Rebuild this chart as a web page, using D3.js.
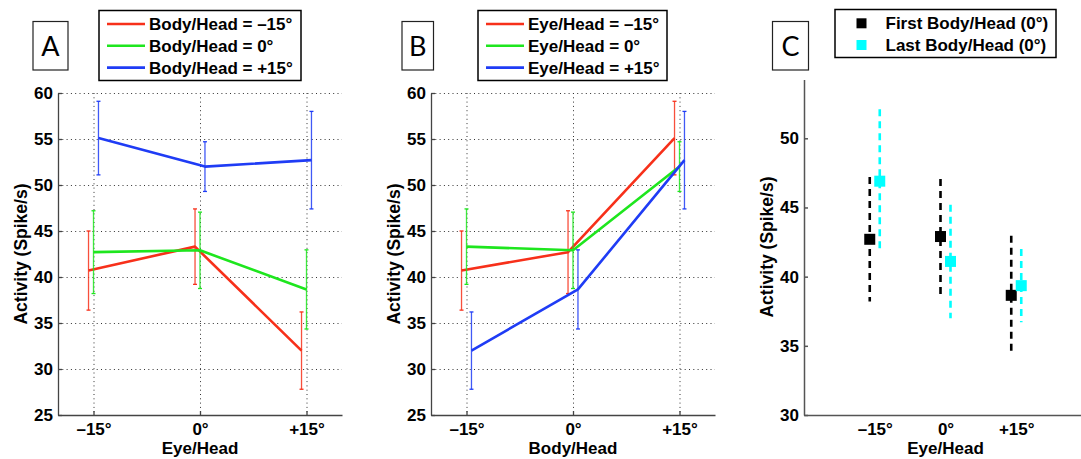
<!DOCTYPE html>
<html>
<head>
<meta charset="utf-8">
<script src="https://cdn.jsdelivr.net/npm/d3@7"></script>
<style>
  body { margin: 0; background: #fff; }
  svg text { font-family: "Liberation Sans", Arial, Helvetica, sans-serif; font-weight: bold; fill: #000; }
  .panel-letter { font-family: Lato, "Open Sans", sans-serif !important; font-weight: 400 !important; }
</style>
</head>
<body>
<svg id="chart" width="1081" height="459"></svg>
<script>
// ---- data -------------------------------------------------------------
const angles = [-15, 0, 15];
const angleLabels = ["\u201315\u00b0", "0\u00b0", "+15\u00b0"];
const activityTicks = [25, 30, 35, 40, 45, 50, 55, 60];
const sessionTicks = [30, 35, 40, 45, 50];

// mean activity per Body/Head condition, indexed by Eye/Head (-15, 0, +15)
const bodyMinus15Mean = [40.7, 43.3, 32.0];
const bodyZeroMean    = [42.7, 42.9, 38.65];
const bodyPlus15Mean  = [55.1, 52.0, 52.7];
// error bar half-lengths
const bodyMinus15Err = [4.3, 4.1, 4.2];
const bodyZeroErr    = [4.5, 4.15, 4.3];
const bodyPlus15Err  = [4.0, 2.7, 5.3];

const conditionNames = ["\u201315\u00b0", "0\u00b0", "+15\u00b0"];
const seriesColors = ["#f7301a", "#1ee61e", "#1f3cf5"];

// first vs last block at Body/Head = 0
const firstMean = [42.7, 42.9, 38.65];
const firstErr  = [4.5, 4.15, 4.3];
const lastMean  = [46.9, 41.1, 39.35];
const lastErr   = [5.2, 4.1, 2.65];
const sessionNames = ["First Body/Head (0\u00b0)", "Last Body/Head (0\u00b0)"];
const sessionColors = ["#000000", "#00ffff"];

// ---- helpers ----------------------------------------------------------
const svg = d3.select("#chart");
const means = [bodyMinus15Mean, bodyZeroMean, bodyPlus15Mean];
const errs = [bodyMinus15Err, bodyZeroErr, bodyPlus15Err];

function panelLetter(x0, x1, letter) {
  const g = svg.append("g");
  g.append("rect").attr("x", x0).attr("y", 21.5).attr("width", x1 - x0).attr("height", 48.5)
    .attr("fill", "#fff").attr("stroke", "#222").attr("stroke-width", 1.2);
  g.append("text").attr("class", "panel-letter").attr("x", (x0 + x1) / 2).attr("y", 55.5)
    .attr("text-anchor", "middle").style("font-size", "27px").text(letter);
}

function linePanel(opts) {
  const x = d3.scaleLinear().domain([-20, 20]).range([opts.left, opts.right]);
  const y = d3.scaleLinear().domain([25, 60]).range([415, 93]);
  const g = svg.append("g");

  // dotted grid
  const grid = g.append("g").attr("stroke", "#333").attr("stroke-width", 1)
    .attr("stroke-dasharray", "1,3.3");
  grid.selectAll(".gy").data(activityTicks.slice(1)).join("line")
    .attr("x1", opts.left).attr("x2", opts.right)
    .attr("y1", d => y(d) + 0.5).attr("y2", d => y(d) + 0.5);
  grid.selectAll(".gx").data(angles).join("line")
    .attr("x1", d => x(d) + 0.5).attr("x2", d => x(d) + 0.5)
    .attr("y1", y(60)).attr("y2", y(25));

  // axes
  const ay = g.append("g").attr("transform", `translate(${opts.left},0)`)
    .call(d3.axisLeft(y).tickValues(activityTicks).tickSize(-4).tickSizeOuter(0).tickPadding(5));
  const ax = g.append("g").attr("transform", "translate(0,415)")
    .call(d3.axisBottom(x).tickValues(angles).tickFormat((d, i) => angleLabels[i])
      .tickSize(-4).tickSizeOuter(0).tickPadding(8));
  [ax, ay].forEach(a => {
    a.selectAll("path, line").attr("stroke", "#444").attr("stroke-width", 1.3);
    a.selectAll("text").style("font-size", "17px").attr("fill", "#000");
  });

  // series
  const shift = [-0.7, 0, 0.7];
  for (let s = 0; s < 3; s++) {
    const pts = angles.map((a, i) => ({ x: a + shift[s], m: opts.value(s, i), e: opts.error(s, i) }));
    const sg = g.append("g").attr("stroke", seriesColors[s]).attr("fill", "none");
    sg.selectAll(".eb").data(pts).join("line")
      .attr("x1", d => x(d.x)).attr("x2", d => x(d.x))
      .attr("y1", d => y(d.m - d.e)).attr("y2", d => y(d.m + d.e))
      .attr("stroke-width", 1.3).attr("stroke-opacity", 0.85);
    ["top", "bottom"].forEach(k => {
      sg.selectAll(".cap" + k).data(pts).join("line")
        .attr("x1", d => x(d.x) - 2).attr("x2", d => x(d.x) + 2)
        .attr("y1", d => y(k === "top" ? d.m + d.e : d.m - d.e))
        .attr("y2", d => y(k === "top" ? d.m + d.e : d.m - d.e))
        .attr("stroke-width", 1.3);
    });
    sg.append("path").datum(pts)
      .attr("d", d3.line().x(d => x(d.x)).y(d => y(d.m)))
      .attr("stroke-width", 2.6).attr("stroke-linejoin", "round");
  }

  // labels
  g.append("text").attr("x", x(0)).attr("y", 454).attr("text-anchor", "middle")
    .style("font-size", "17px").text(opts.xLabel);
  g.append("text").attr("transform", `translate(${opts.left - 31},254) rotate(-90)`)
    .attr("text-anchor", "middle").style("font-size", "17.5px").text("Activity (Spike/s)");

  // legend
  const lg = g.append("g");
  lg.append("rect").attr("x", opts.legX0).attr("y", 10.5).attr("width", opts.legX1 - opts.legX0)
    .attr("height", 70).attr("fill", "#fff").attr("stroke", "#000").attr("stroke-width", 1.5);
  const rows = [24, 45.8, 67.6];
  conditionNames.forEach((n, i) => {
    lg.append("line").attr("x1", opts.legX0 + 8).attr("x2", opts.legX0 + 46)
      .attr("y1", rows[i]).attr("y2", rows[i])
      .attr("stroke", seriesColors[i]).attr("stroke-width", 2.6);
    lg.append("text").attr("x", opts.legX0 + 50).attr("y", rows[i] + 6)
      .style("font-size", "17px").text(`${opts.legName} = ${n}`);
  });
}

// ---- panel A: x = Eye/Head, one line per Body/Head ----
linePanel({
  left: 58, right: 342, xLabel: "Eye/Head", legName: "Body/Head", legX0: 99, legX1: 301,
  value: (s, i) => means[s][i], error: (s, i) => errs[s][i]
});
panelLetter(33, 68, "A");

// ---- panel B: x = Body/Head, one line per Eye/Head ----
linePanel({
  left: 431, right: 715, xLabel: "Body/Head", legName: "Eye/Head", legX0: 478, legX1: 667,
  value: (s, i) => means[i][s], error: (s, i) => errs[i][s]
});
panelLetter(402, 433.5, "B");

// ---- panel C: first vs last block ----
(function () {
  const x = d3.scaleLinear().domain([-30, 30]).range([804, 1087]);
  const y = d3.scaleLinear().domain([30, 54.25]).range([415, 79.5]);
  const g = svg.append("g");

  const ay = g.append("g").attr("transform", "translate(804,0)")
    .call(d3.axisLeft(y).tickValues(sessionTicks).tickSize(-4).tickSizeOuter(0).tickPadding(5));
  const ax = g.append("g").attr("transform", "translate(0,415)")
    .call(d3.axisBottom(x).tickValues(angles).tickFormat((d, i) => angleLabels[i])
      .tickSize(0).tickSizeOuter(0).tickPadding(8));
  [ax, ay].forEach(a => {
    a.selectAll("path, line").attr("stroke", "#555").attr("stroke-width", 1.5);
    a.selectAll("text").style("font-size", "17px").attr("fill", "#000");
  });

  const sets = [[firstMean, firstErr], [lastMean, lastErr]];
  const shift = [-1.06, 1.06];
  sets.forEach(([mArr, eArr], s) => {
    const pts = angles.map((a, i) => ({ x: a + shift[s], m: mArr[i], e: eArr[i] }));
    const sg = g.append("g");
    sg.selectAll("line").data(pts).join("line")
      .attr("x1", d => x(d.x)).attr("x2", d => x(d.x))
      .attr("y1", d => y(d.m + d.e)).attr("y2", d => y(d.m - d.e))
      .attr("stroke", sessionColors[s]).attr("stroke-width", 2.6)
      .attr("stroke-dasharray", "7,5");
    sg.selectAll("rect").data(pts).join("rect")
      .attr("x", d => x(d.x) - 5.5).attr("y", d => y(d.m) - 5.5)
      .attr("width", 11).attr("height", 11).attr("fill", sessionColors[s]);
  });

  g.append("text").attr("x", x(0)).attr("y", 454).attr("text-anchor", "middle")
    .style("font-size", "17px").text("Eye/Head");
  g.append("text").attr("transform", "translate(773,247) rotate(-90)")
    .attr("text-anchor", "middle").style("font-size", "17.5px").text("Activity (Spike/s)");

  const lg = g.append("g");
  lg.append("rect").attr("x", 835).attr("y", 9.5).attr("width", 221).attr("height", 48)
    .attr("fill", "#fff").attr("stroke", "#000").attr("stroke-width", 1.5);
  const rows = [23.3, 45];
  sessionNames.forEach((n, i) => {
    lg.append("rect").attr("x", 856.5).attr("y", rows[i] - 5).attr("width", 10).attr("height", 10)
      .attr("fill", sessionColors[i]);
    lg.append("text").attr("x", 885.5).attr("y", rows[i] + 6)
      .style("font-size", "17px").text(n);
  });
  panelLetter(772.5, 808.5, "C");
})();
</script>
</body>
</html>
